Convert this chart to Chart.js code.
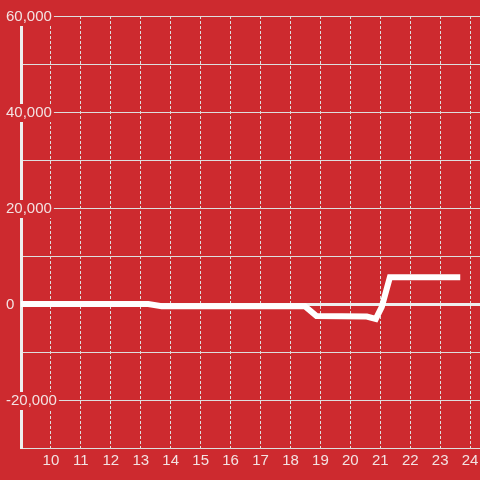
<!DOCTYPE html>
<html>
<head>
<meta charset="utf-8">
<script src="https://cdn.jsdelivr.net/npm/chart.js@4"></script>
<style>
  html, body { margin: 0; padding: 0; background: #cd2a2f; }
  #wrap { width: 480px; height: 480px; }
  canvas { background: #cd2a2f; }
</style>
</head>
<body>
<div id="wrap"><canvas id="chart" width="480" height="480"></canvas></div>
<script>
(() => {

/* ---------- DATA ---------- */

const hours = [9, 13.25, 13.7, 18.48, 18.87, 20.55, 20.85, 21.05, 21.32, 23.67];
const values = [0, 0, -450, -450, -2500, -2600, -3100, -600, 5550, 5550];

const xTicks = [10, 11, 12, 13, 14, 15, 16, 17, 18, 19, 20, 21, 22, 23, 24];
const yLabels = [60000, 40000, 20000, 0, -20000];

/* ---------- STYLE ---------- */

const bg = "#cd2a2f";
const textColor = "#f3e2e2";
const gridColor = "#dedede";
const font = { family: "'Liberation Sans', Arial, sans-serif", size: 15 };

const points = hours.map((h, i) => ({ x: h, y: values[i] }));

/* ---------- CHART ---------- */

new Chart(document.getElementById("chart"), {
  type: "line",
  data: {
    datasets: [
      {
        data: points,
        borderColor: "#ffffff",
        borderWidth: 6,
        pointRadius: 0,
        tension: 0,
        fill: false
      }
    ]
  },
  options: {
    responsive: false,
    animation: false,
    layout: { padding: { top: 16, left: 21, right: 0, bottom: 7 } },
    plugins: {
      legend: { display: false },
      tooltip: { enabled: false }
    },
    scales: {
      x: {
        type: "linear",
        min: 9,
        max: 24.33,
        grid: {
          color: gridColor,
          lineWidth: 1,
          drawTicks: false
        },
        border: { display: true, color: gridColor, width: 1, dash: [3, 2] },
        ticks: {
          stepSize: 1,
          includeBounds: false,
          padding: 0,
          color: textColor,
          font: { ...font, lineHeight: "25px" },
          maxRotation: 0,
          autoSkip: false,
          callback: v => (xTicks.includes(v) ? String(v) : "")
        }
      },
      y: {
        min: -30000,
        max: 60000,
        afterFit: scale => { scale.width = 0; },
        grid: {
          color: ctx => (ctx.tick && ctx.tick.value === 0 ? "#eeeeee" : gridColor),
          lineWidth: ctx => (ctx.tick && ctx.tick.value === 0 ? 3 : 1),
          drawTicks: false
        },
        border: { display: true, color: "#eeeeee", width: 3 },
        ticks: {
          stepSize: 10000,
          mirror: true,
          crossAlign: "near",
          padding: -15,
          labelOffset: 1,
          color: textColor,
          font: font,
          showLabelBackdrop: ctx => yLabels.includes(ctx.tick.value),
          backdropColor: bg,
          backdropPadding: { left: 2, right: 2, top: 0, bottom: 0 },
          callback: v => (yLabels.includes(v) ? v.toLocaleString("en-US") : "")
        }
      }
    }
  }
});

})();
</script>
</body>
</html>
